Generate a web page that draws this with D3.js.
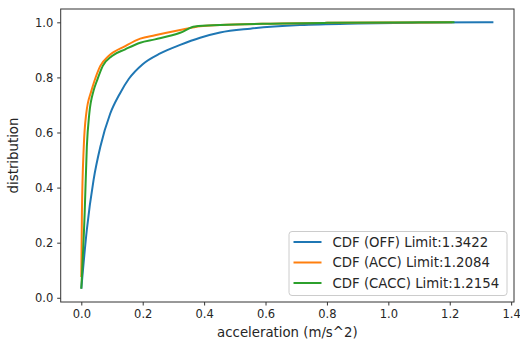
<!DOCTYPE html>
<html>
<head>
<meta charset="utf-8">
<script src="https://cdn.jsdelivr.net/npm/d3@7"></script>
<style>
  body { margin: 0; background: #fff; }
  svg { display: block; font-family: "DejaVu Sans", sans-serif; }
</style>
</head>
<body>
<div id="chart"></div>
<script>
// data
const offX  = [0, 0.018, 0.04, 0.062, 0.094, 0.125, 0.155, 0.2, 0.257, 0.322, 0.387, 0.452, 0.55, 0.712, 0.9, 1.1, 1.3422];
const offY  = [0.033, 0.247, 0.428, 0.548, 0.668, 0.74, 0.795, 0.848, 0.887, 0.918, 0.944, 0.963, 0.977, 0.99, 0.996, 0.999, 1.0];
const accX  = [0, 0.002, 0.008, 0.016, 0.033, 0.043, 0.062, 0.089, 0.143, 0.192, 0.24, 0.322, 0.387, 0.452, 0.6, 0.8, 1.0, 1.2084];
const accY  = [0.075, 0.309, 0.548, 0.668, 0.752, 0.788, 0.842, 0.878, 0.914, 0.941, 0.953, 0.972, 0.986, 0.99, 0.995, 0.998, 0.999, 1.0];
const caccX = [0, 0.011, 0.018, 0.026, 0.04, 0.051, 0.07, 0.1, 0.143, 0.192, 0.24, 0.322, 0.37, 0.452, 0.6, 0.8, 1.0, 1.2154];
const caccY = [0.033, 0.309, 0.548, 0.668, 0.752, 0.788, 0.842, 0.878, 0.902, 0.926, 0.938, 0.962, 0.985, 0.99, 0.995, 0.998, 0.999, 1.0];
const seriesNames = ["CDF (OFF) Limit:1.3422", "CDF (ACC) Limit:1.2084", "CDF (CACC) Limit:1.2154"];
const colors = ["#1f77b4", "#ff7f0e", "#2ca02c"];
const xTicks = [0.0, 0.2, 0.4, 0.6, 0.8, 1.0, 1.2, 1.4];
const yTicks = [0.0, 0.2, 0.4, 0.6, 0.8, 1.0];

const series = [
  offX.map((x, i) => [x, offY[i]]),
  accX.map((x, i) => [x, accY[i]]),
  caccX.map((x, i) => [x, caccY[i]])
];

// dimensions
const W = 520, H = 344;
const margin = {top: 9, right: 6, bottom: 42, left: 60.7};
const width = W - margin.left - margin.right,
    height = H - margin.top - margin.bottom;

const svg = d3.select("#chart")
  .append("svg")
    .attr("width", W)
    .attr("height", H)
  .append("g")
    .attr("transform", `translate(${margin.left},${margin.top})`);

// matplotlib-style 5% padding
const allX = [].concat(offX, accX, caccX), allY = [].concat(offY, accY, caccY);
const [x0, x1] = d3.extent(allX), [y0, y1] = d3.extent(allY);
const px = (x1 - x0) * 0.05, py = (y1 - y0) * 0.05;

const x = d3.scaleLinear().domain([x0 - px, x1 + px]).range([0, width]);
const y = d3.scaleLinear().domain([y0 - py, y1 + py]).range([height, 0]);

// axes
const xAxis = svg.append("g")
  .attr("transform", `translate(0,${height})`)
  .call(d3.axisBottom(x).tickValues(xTicks).tickFormat(d3.format(".1f")).tickSizeOuter(0).tickSize(3.5).tickPadding(4));
const yAxis = svg.append("g")
  .call(d3.axisLeft(y).tickValues(yTicks).tickFormat(d3.format(".1f")).tickSizeOuter(0).tickSize(3.5).tickPadding(4));
[xAxis, yAxis].forEach(a => {
  a.select(".domain").remove();
  a.selectAll("text").style("font-size", "11.5px").attr("fill", "#262626").style("font-family", "DejaVu Sans");
  a.selectAll("line").attr("stroke", "#333");
});

// frame
svg.append("rect")
  .attr("width", width)
  .attr("height", height)
  .attr("fill", "none")
  .attr("stroke", "#333")
  .attr("stroke-width", 1);

// lines
const line = d3.line()
  .x(d => x(d[0]))
  .y(d => y(d[1]))
  .curve(d3.curveMonotoneX);

svg.selectAll(".cdf")
  .data(series)
  .join("path")
    .attr("class", "cdf")
    .attr("d", line)
    .attr("fill", "none")
    .attr("stroke", (d, i) => colors[i])
    .attr("stroke-width", 2);

// axis labels
svg.append("text")
  .attr("x", width / 2)
  .attr("y", height + 35)
  .attr("text-anchor", "middle")
  .style("font-size", "13.3px")
  .attr("fill", "#262626")
  .text("acceleration (m/s^2)");

svg.append("text")
  .attr("transform", `translate(${-43},${height / 2}) rotate(-90)`)
  .attr("text-anchor", "middle")
  .style("font-size", "13.3px")
  .attr("fill", "#262626")
  .text("distribution");

// legend
const lg = svg.append("g")
  .attr("transform", `translate(${289 - margin.left},${231.5 - margin.top})`);
lg.append("rect")
  .attr("width", 218)
  .attr("height", 64)
  .attr("rx", 3)
  .attr("fill", "#fff")
  .attr("fill-opacity", 0.8)
  .attr("stroke", "#ccc");
seriesNames.forEach((name, i) => {
  const cy = 10.5 + i * 20.5;
  lg.append("line")
    .attr("x1", 4.5).attr("x2", 32.5)
    .attr("y1", cy).attr("y2", cy)
    .attr("stroke", colors[i])
    .attr("stroke-width", 2);
  lg.append("text")
    .attr("x", 43.5)
    .attr("y", cy)
    .attr("dy", "0.36em")
    .style("font-size", "13.3px")
    .attr("fill", "#262626")
    .text(name);
});
</script>
</body>
</html>
